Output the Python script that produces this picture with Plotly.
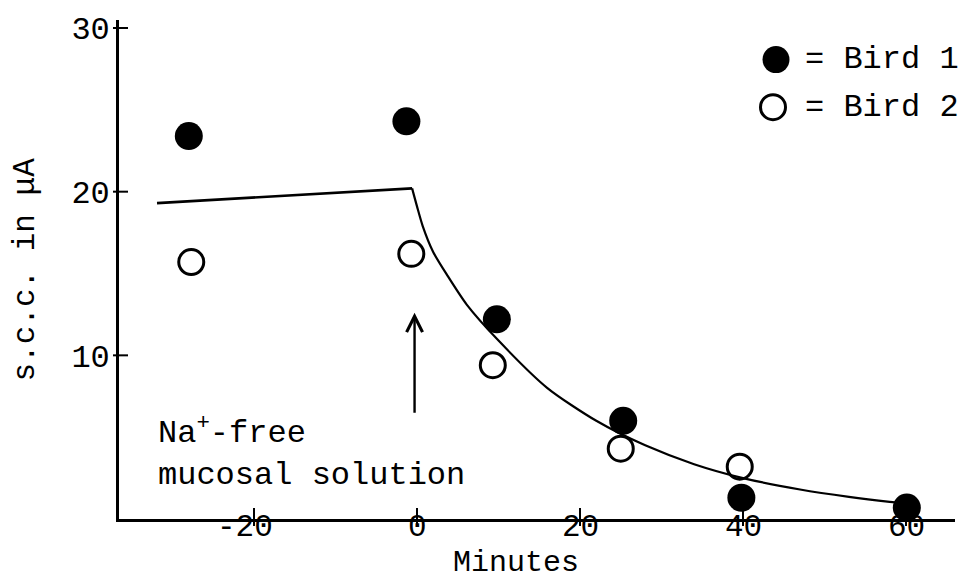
import plotly.graph_objects as go

# Short-circuit current (s.c.c.) after switching to a Na+-free mucosal solution at t = 0
bird1_minutes = [-28.0, -1.3, 9.8, 25.3, 39.8, 60.1]
bird1_scc = [23.4, 24.3, 12.2, 6.0, 1.3, 0.7]

bird2_minutes = [-27.7, -0.7, 9.3, 25.0, 39.6]
bird2_scc = [15.7, 16.2, 9.4, 4.3, 3.2]

# Hand-fitted trend: flat baseline, then decay after the solution change
baseline_minutes = [-31.9, -0.6]
baseline_scc = [19.3, 20.2]
decay_minutes = [-0.6, 0.0, 0.7, 2.0, 3.7, 6.1, 10.0, 16.0, 22.0, 28.0, 34.0, 40.0, 47.0,
                 53.0, 58.0, 60.1]
decay_scc = [20.2, 19.1, 17.9, 16.3, 14.9, 13.1, 10.9, 8.0, 6.0, 4.5, 3.35, 2.5, 1.8,
             1.35, 1.05, 0.95]

x_ticks = [-20, 0, 20, 40, 60]
y_ticks = [10, 20, 30]

# Arrow marking the switch of the mucosal solution
arrow_minute = -0.3
arrow_tail_scc = 6.4
arrow_head_scc = 12.6

FONT = "Liberation Mono, Courier New, monospace"
FS = 32
INK = "black"

fig = go.Figure()

fig.add_trace(go.Scatter(
    x=baseline_minutes, y=baseline_scc, mode="lines",
    line=dict(color=INK, width=2.6), hoverinfo="skip", showlegend=False,
))
fig.add_trace(go.Scatter(
    x=decay_minutes, y=decay_scc, mode="lines",
    line=dict(color=INK, width=2.2, shape="spline", smoothing=0.7),
    hoverinfo="skip", showlegend=False,
))
fig.add_trace(go.Scatter(
    x=bird2_minutes, y=bird2_scc, mode="markers", name="Bird 2",
    marker=dict(symbol="circle-open", size=25, color=INK, line=dict(width=3, color=INK)),
    showlegend=False, cliponaxis=False,
))
fig.add_trace(go.Scatter(
    x=bird1_minutes, y=bird1_scc, mode="markers", name="Bird 1",
    marker=dict(symbol="circle", size=28, color=INK),
    showlegend=False, cliponaxis=False,
))

# Plot-area geometry (pixels)
L, R, T, B = 119, 12, 15, 63
W, H = 967, 582
pw, ph = W - L - R, H - T - B

shapes = []
annotations = []

# crossing tick marks on both axes
for v in x_ticks:
    shapes.append(dict(type="line", xref="x", yref="paper", x0=v, x1=v,
                       y0=-7 / ph, y1=11 / ph, line=dict(color=INK, width=2)))
for v in y_ticks:
    shapes.append(dict(type="line", xref="paper", yref="y", x0=-6 / pw, x1=9 / pw,
                       y0=v, y1=v, line=dict(color=INK, width=2)))

# x tick labels sit tight under the axis line; the minus sign hangs to the left
for v in x_ticks:
    label = str(v)
    annotations.append(dict(
        x=v, xref="x", yref="paper", y=-(528 - (H - B)) / ph,
        xanchor="center", yanchor="middle", text=label, showarrow=False,
        xshift=-0.3 * 31 * label.count("-"),
        font=dict(family=FONT, size=31, color=INK),
    ))

# key symbols
key_items = [("circle", "= Bird 1", 776, 55), ("open", "= Bird 2", 773, 103)]
for kind, label, px, py in key_items:
    xa = (px - L) / pw
    ya = 1 - (py - T) / ph
    r = 13.5 if kind == "circle" else 12.5
    shapes.append(dict(
        type="circle", xref="paper", yref="paper", xsizemode="pixel", ysizemode="pixel",
        xanchor=xa, yanchor=ya, x0=-r, x1=r, y0=-r, y1=r,
        fillcolor=INK if kind == "circle" else "rgba(0,0,0,0)",
        line=dict(color=INK, width=0 if kind == "circle" else 3),
    ))
    annotations.append(dict(
        xref="paper", yref="paper", x=(803 - L) / pw, y=ya, xanchor="left", yanchor="middle",
        text=label, showarrow=False, font=dict(family=FONT, size=FS, color=INK),
    ))

annotations += [
    dict(x=arrow_minute, y=arrow_head_scc, ax=arrow_minute, ay=arrow_tail_scc,
         xref="x", yref="y", axref="x", ayref="y", text="", showarrow=True,
         arrowhead=5, arrowsize=1.3, arrowwidth=2.4, arrowcolor=INK),
    dict(xref="paper", yref="paper", x=(156 - L) / pw, y=1 - (451 - T) / ph,
         xanchor="left", yanchor="middle", align="left",
         text="Na<sup>+</sup>-free<br>mucosal solution", showarrow=False,
         font=dict(family=FONT, size=FS, color=INK)),
    dict(xref="paper", yref="paper", x=(516 - L) / pw, y=-(563 - (H - B)) / ph,
         xanchor="center", yanchor="middle", text="Minutes", showarrow=False,
         font=dict(family=FONT, size=30, color=INK)),
    dict(xref="paper", yref="paper", x=(25 - L) / pw, y=0.5,
         xanchor="center", yanchor="middle", text="s.c.c. in μA", textangle=-90,
         showarrow=False, font=dict(family=FONT, size=31, color=INK)),
]

x_lo = (L - 417) / 8.15
x_hi = (W - R - 417) / 8.15
y_hi = (519 - T) / 16.53

fig.update_layout(
    width=W, height=H,
    margin=dict(l=L, r=R, t=T, b=B, pad=0),
    paper_bgcolor="white", plot_bgcolor="white",
    font=dict(family=FONT, size=FS, color=INK),
    xaxis=dict(range=[x_lo, x_hi], tickvals=x_ticks, showticklabels=False,
               showgrid=False, zeroline=False, showline=True, linecolor=INK, linewidth=2.6,
               ticks=""),
    yaxis=dict(range=[0, y_hi], tickvals=y_ticks, ticktext=[str(v) for v in y_ticks],
               showgrid=False, zeroline=False, showline=True, linecolor=INK, linewidth=2.6,
               ticks="", ticklabelstandoff=0, tickfont=dict(family=FONT, size=FS, color=INK)),
    shapes=shapes, annotations=annotations, showlegend=False,
)

fig.write_html("out.html")
